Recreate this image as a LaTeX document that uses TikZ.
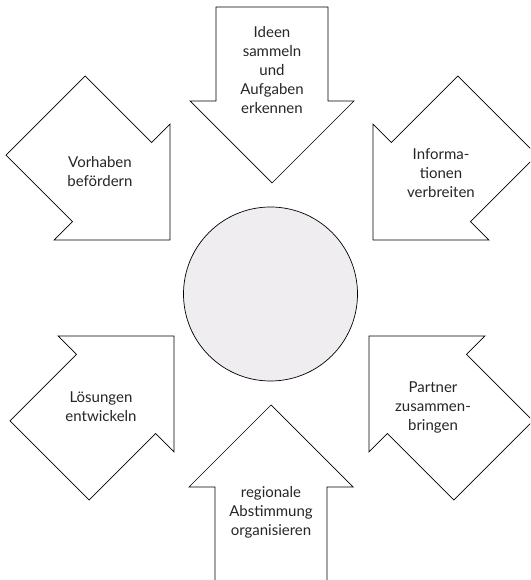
\documentclass[tikz,border=0pt]{standalone}
\usepackage{fontspec}
\setmainfont{Lato}
\definecolor{hubgray}{RGB}{239,237,240}
\tikzset{
  bigarrow/.style={draw, fill=white, line width=0.7pt, line join=miter},
  lbl/.style={align=center, text=black!85, font=\fontsize{15}{19}\selectfont}
}
\begin{document}
\begin{tikzpicture}[x=1pt,y=1pt]
		\useasboundingbox (0,0) rectangle (530,580);
		\clip (0,0) rectangle (530,580);
		\foreach \tx/\ty/\ang in {272/397/-90, 373/340/-135, 369/244/135, 271/175/90, 174/244/45, 170/340/-45}
			\draw[bigarrow, shift={(\tx,\ty)}, rotate=\ang] (0,0) -- (-82,82) -- (-82,56) -- (-176,56) -- (-176,-56) -- (-82,-56) -- (-82,-82) -- cycle;
		\node[circle, draw, fill=hubgray, line width=0.7pt, minimum size=174pt, inner sep=0pt] (hub) at (270.5,286) {};
		\node[lbl] (ideen) at (272,510) {Ideen\\sammeln\\und\\Aufgaben\\erkennen};
		\node[lbl] (info) at (441,407) {Informa-\\tionen\\verbreiten};
		\node[lbl] (partner) at (433,173) {Partner\\zusammen-\\bringen};
		\node[lbl] (abstimmung) at (271,68) {regionale\\Abstimmung\\organisieren};
		\node[lbl] (loesungen) at (101,173) {Lösungen\\entwickeln};
		\node[lbl] (vorhaben) at (100,408) {Vorhaben\\befördern};
\end{tikzpicture}
\end{document}
